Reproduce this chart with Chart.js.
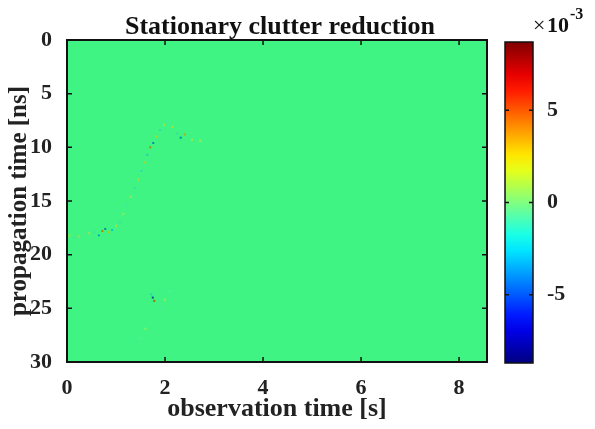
<!DOCTYPE html>
<html>
<head>
<meta charset="utf-8">
<script src="https://cdn.jsdelivr.net/npm/chart.js@4.4.1/dist/chart.umd.min.js"></script>
<style>
  body { margin: 0; background: #fff; }
  #wrap { position: relative; width: 595px; height: 429px; }
  #main { position: absolute; left: 0; top: 0; }
  #cbar { position: absolute; left: 495px; top: 0; }
</style>
</head>
<body>
<div id="wrap">
  <canvas id="main" width="495" height="429"></canvas>
  <canvas id="cbar" width="100" height="429"></canvas>
</div>
<script>
// axis ranges / ticks
const xTicks = [0, 2, 4, 6, 8];
const yTicks = [0, 5, 10, 15, 20, 25, 30];
const cTicks = [-5, 0, 5];
const xMax = 8.57;
const yMax = 30;
const cLimit = 8.7; // colour scale, x 1e-3

// non-zero cells after clutter reduction (observation time s, propagation ns, value x1e-3)
const featX = [0.05, 0.15, 0.25, 0.35, 0.45, 0.55, 0.65, 0.72, 0.78, 0.85, 0.92, 1.0, 1.08, 1.15, 1.22, 1.3, 1.38, 1.45, 1.52, 1.58, 1.64, 1.7, 1.76, 1.82, 1.9, 1.98, 2.05, 2.15, 2.25, 2.32, 2.4, 2.55, 2.72, 1.75, 1.78, 1.72, 1.5, 1.6, 1.9, 2.0, 2.1];
const featY = [18.2, 18.4, 18.3, 18.1, 18.0, 17.9, 18.2, 17.8, 17.6, 17.9, 17.7, 17.3, 17.0, 16.2, 15.4, 14.6, 13.8, 13.0, 12.2, 11.4, 10.7, 10.0, 9.6, 9.0, 8.4, 7.9, 7.6, 8.1, 8.7, 9.1, 8.8, 9.3, 9.4, 24.0, 24.3, 23.7, 27.8, 26.9, 25.0, 24.2, 23.4];
const featV = [1.2, -0.9, 1.0, -0.8, 0.9, -1.0, -2.5, 3.0, -3.0, 2.0, -2.0, 1.0, -1.0, 0.8, -0.9, 0.8, -1.1, 1.2, -1.3, 1.5, -1.6, 3.0, -3.0, 1.4, -1.2, 0.9, -0.8, 1.0, -1.2, -3.0, 2.5, 0.8, 0.6, -4.0, 3.5, -1.5, -0.6, 0.6, -0.7, 0.7, -0.6];

function jet(t) { // t in [0,1]
  const r = Math.max(0, Math.min(1, 1.5 - Math.abs(4 * t - 3)));
  const g = Math.max(0, Math.min(1, 1.5 - Math.abs(4 * t - 2)));
  const b = Math.max(0, Math.min(1, 1.5 - Math.abs(4 * t - 1)));
  return `rgb(${Math.round(r * 255)},${Math.round(g * 255)},${Math.round(b * 255)})`;
}
// darkened a bit, the small blobs look muddy in the original
function valueColor(v) {
  const c = jet((v + cLimit) / (2 * cLimit)).match(/\d+/g).map(Number);
  const k = Math.min(Math.abs(v) / 4, 1) * 0.45;
  return `rgb(${c.map(n => Math.round(n * (1 - k))).join(',')})`;
}

const points = featX.map((x, i) => ({ x: x, y: featY[i] }));
const pointColors = featV.map(valueColor);

const serif = '"Liberation Serif", "DejaVu Serif", serif';
Chart.defaults.font.family = serif;
Chart.defaults.font.weight = 'bold';
Chart.defaults.color = '#222';

// image background + box + inward ticks + title
const framePlugin = {
  id: 'frame',
  beforeDatasetsDraw(chart) {
    const { ctx, chartArea: a } = chart;
    ctx.save();
    ctx.fillStyle = 'rgb(64,244,132)';
    ctx.fillRect(a.left, a.top, a.right - a.left, a.bottom - a.top);
    ctx.restore();
  },
  afterDraw(chart) {
    const { ctx, chartArea: a, scales } = chart;
    ctx.save();
    ctx.strokeStyle = '#111';
    ctx.lineWidth = 2;
    ctx.strokeRect(a.left, a.top, a.right - a.left, a.bottom - a.top);
    ctx.lineWidth = 1.5;
    ctx.beginPath();
    xTicks.forEach(t => {
      const px = scales.x.getPixelForValue(t);
      ctx.moveTo(px, a.bottom); ctx.lineTo(px, a.bottom - 5);
      ctx.moveTo(px, a.top); ctx.lineTo(px, a.top + 5);
    });
    yTicks.forEach(t => {
      const py = scales.y.getPixelForValue(t);
      ctx.moveTo(a.left, py); ctx.lineTo(a.left + 5, py);
      ctx.moveTo(a.right, py); ctx.lineTo(a.right - 5, py);
    });
    ctx.stroke();
    ctx.fillStyle = '#111';
    ctx.font = 'bold 26px ' + serif;
    ctx.textAlign = 'center';
    ctx.textBaseline = 'alphabetic';
    ctx.fillText('Stationary clutter reduction', (a.left + a.right) / 2 + 3, a.top - 6);
    ctx.restore();
  }
};

new Chart(document.getElementById('main'), {
  type: 'scatter',
  data: {
    datasets: [{
      data: points,
      pointStyle: 'rect',
      pointRadius: 1.4,
      borderWidth: 0,
      backgroundColor: pointColors
    }]
  },
  options: {
    responsive: false,
    animation: false,
    layout: { padding: { top: 40, right: 8, left: 0, bottom: 0 } },
    plugins: { legend: { display: false }, tooltip: { enabled: false } },
    scales: {
      x: {
        type: 'linear', min: 0, max: xMax,
        afterBuildTicks: s => { s.ticks = xTicks.map(v => ({ value: v })); },
        grid: { display: false },
        border: { display: false },
        ticks: { font: { size: 22 }, padding: 5 },
        title: { display: true, text: 'observation time [s]', font: { size: 26 }, padding: { top: -4 } },
        afterFit: s => { s.height = 67; }
      },
      y: {
        type: 'linear', min: 0, max: yMax, reverse: true,
        afterBuildTicks: s => { s.ticks = yTicks.map(v => ({ value: v })); },
        grid: { display: false },
        border: { display: false },
        ticks: { font: { size: 22 }, padding: 7 },
        title: { display: true, text: 'propagation time [ns]', font: { size: 25 }, padding: { top: 5, bottom: -4 } },
        afterFit: s => { s.width = 67; }
      }
    }
  },
  plugins: [framePlugin]
});

// colour bar
const cbarPlugin = {
  id: 'cbarFrame',
  afterDraw(chart) {
    const { ctx, chartArea: a, scales } = chart;
    ctx.save();
    ctx.strokeStyle = '#111';
    ctx.lineWidth = 1.5;
    ctx.strokeRect(a.left, a.top, a.right - a.left, a.bottom - a.top);
    ctx.beginPath();
    cTicks.forEach(t => {
      const py = scales.y.getPixelForValue(t);
      ctx.moveTo(a.right, py); ctx.lineTo(a.right - 4, py);
      ctx.moveTo(a.left, py); ctx.lineTo(a.left + 4, py);
    });
    ctx.stroke();
    ctx.fillStyle = '#111';
    ctx.textBaseline = 'alphabetic';
    ctx.font = '22px ' + serif;
    ctx.fillText('\u00d7', 38, 32);
    ctx.font = 'bold 22px ' + serif;
    ctx.fillText('10', 52, 32);
    ctx.font = 'bold 16px ' + serif;
    ctx.fillText('-3', 75, 19);
    ctx.restore();
  }
};

new Chart(document.getElementById('cbar'), {
  type: 'bar',
  data: {
    labels: [''],
    datasets: [{
      data: [[-cLimit, cLimit]],
      categoryPercentage: 1,
      barPercentage: 1,
      backgroundColor: ctx => {
        const a = ctx.chart.chartArea;
        if (!a) return 'rgb(64,244,132)';
        const g = ctx.chart.ctx.createLinearGradient(0, a.bottom, 0, a.top);
        for (let i = 0; i <= 20; i++) g.addColorStop(i / 20, jet(i / 20));
        return g;
      }
    }]
  },
  options: {
    responsive: false,
    animation: false,
    layout: { padding: { top: 42, left: 10, right: 0, bottom: 66 } },
    plugins: { legend: { display: false }, tooltip: { enabled: false } },
    scales: {
      x: { display: false },
      y: {
        position: 'right', min: -cLimit, max: cLimit,
        afterBuildTicks: s => { s.ticks = cTicks.map(v => ({ value: v })); },
        grid: { display: false },
        border: { display: false },
        ticks: { font: { size: 22 }, padding: 6 },
        afterFit: s => { s.width = 62; }
      }
    }
  },
  plugins: [cbarPlugin]
});
</script>
</body>
</html>
